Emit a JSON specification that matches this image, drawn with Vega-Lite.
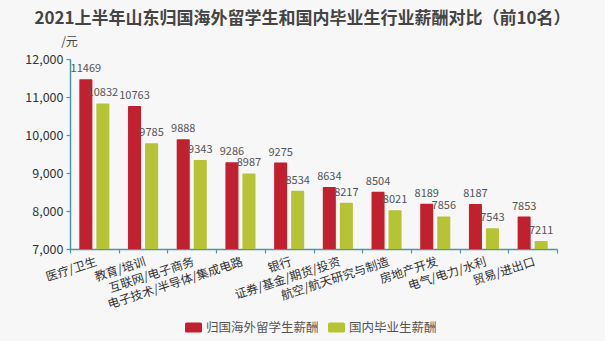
{
  "$schema": "https://vega.github.io/schema/vega-lite/v6.json",
  "width": 487,
  "height": 190,
  "autosize": {"type": "none"},
  "padding": {"left": 70, "top": 59, "right": 48, "bottom": 92},
  "background": "#f7f7f7",
  "title": {
    "text": "2021上半年山东归国海外留学生和国内毕业生行业薪酬对比（前10名）",
    "font": "Noto Sans CJK SC",
    "fontSize": 17,
    "fontWeight": "bold",
    "color": "#444444",
    "anchor": "middle",
    "dx": -11,
    "offset": 7
  },
  "config": {
    "view": {"stroke": null},
    "font": "Noto Sans CJK SC"
  },
  "data": {
    "values": [
      {"industry": "医疗/卫生", "series": "归国海外留学生薪酬", "value": 11469},
      {"industry": "医疗/卫生", "series": "国内毕业生薪酬", "value": 10832},
      {"industry": "教育/培训", "series": "归国海外留学生薪酬", "value": 10763},
      {"industry": "教育/培训", "series": "国内毕业生薪酬", "value": 9785},
      {"industry": "互联网/电子商务", "series": "归国海外留学生薪酬", "value": 9888},
      {"industry": "互联网/电子商务", "series": "国内毕业生薪酬", "value": 9343},
      {"industry": "电子技术/半导体/集成电路", "series": "归国海外留学生薪酬", "value": 9286},
      {"industry": "电子技术/半导体/集成电路", "series": "国内毕业生薪酬", "value": 8987},
      {"industry": "银行", "series": "归国海外留学生薪酬", "value": 9275},
      {"industry": "银行", "series": "国内毕业生薪酬", "value": 8534},
      {"industry": "证券/基金/期货/投资", "series": "归国海外留学生薪酬", "value": 8634},
      {"industry": "证券/基金/期货/投资", "series": "国内毕业生薪酬", "value": 8217},
      {"industry": "航空/航天研究与制造", "series": "归国海外留学生薪酬", "value": 8504},
      {"industry": "航空/航天研究与制造", "series": "国内毕业生薪酬", "value": 8021},
      {"industry": "房地产开发", "series": "归国海外留学生薪酬", "value": 8189},
      {"industry": "房地产开发", "series": "国内毕业生薪酬", "value": 7856},
      {"industry": "电气/电力/水利", "series": "归国海外留学生薪酬", "value": 8187},
      {"industry": "电气/电力/水利", "series": "国内毕业生薪酬", "value": 7543},
      {"industry": "贸易/进出口", "series": "归国海外留学生薪酬", "value": 7853},
      {"industry": "贸易/进出口", "series": "国内毕业生薪酬", "value": 7211}
    ]
  },
  "encoding": {
    "x": {
      "field": "industry",
      "type": "nominal",
      "sort": null,
      "scale": {"paddingInner": 0, "paddingOuter": 0},
      "axis": {
        "title": null,
        "labelAngle": -18,
        "labelAlign": "right",
        "labelBaseline": "top",
        "labelFontSize": 12,
        "labelColor": "#333333",
        "labelPadding": 3,
        "tickBand": "extent",
        "tickSize": 4,
        "tickColor": "#4a98a2",
        "domainColor": "#4a98a2",
        "domainWidth": 1.5,
        "tickWidth": 1.2
      }
    },
    "xOffset": {
      "field": "series",
      "type": "nominal",
      "sort": ["归国海外留学生薪酬", "国内毕业生薪酬"],
      "scale": {"paddingInner": 0.235, "paddingOuter": 0.547}
    },
    "y": {
      "field": "value",
      "type": "quantitative",
      "scale": {"domain": [7000, 12000], "nice": false, "zero": false},
      "axis": {
        "values": [7000, 8000, 9000, 10000, 11000, 12000],
        "format": ",d",
        "grid": false,
        "tickSize": 4,
        "tickColor": "#4a98a2",
        "domainColor": "#4a98a2",
        "domainWidth": 1.5,
        "tickWidth": 1.2,
        "labelFontSize": 12.5,
        "labelColor": "#333333",
        "labelPadding": 3,
        "title": "/元",
        "titleAngle": 0,
        "titleAlign": "center",
        "titleBaseline": "alphabetic",
        "titleX": -1,
        "titleY": -14,
        "titleFontSize": 12,
        "titleFontWeight": "normal",
        "titleColor": "#444444"
      }
    }
  },
  "layer": [
    {
      "mark": {"type": "bar", "cornerRadiusTopLeft": 1, "cornerRadiusTopRight": 1},
      "encoding": {
        "y2": {"datum": 7000},
        "color": {
          "field": "series",
          "type": "nominal",
          "scale": {"domain": ["归国海外留学生薪酬", "国内毕业生薪酬"], "range": ["#c1202f", "#b6c334"]},
          "legend": {
            "title": null,
            "orient": "none",
            "direction": "horizontal",
            "legendX": 115,
            "legendY": 260,
            "padding": 0,
            "symbolType": "M-0.8,-0.6H0.8A0.2,0.2 0 0 1 1,-0.4V0.4A0.2,0.2 0 0 1 0.8,0.6H-0.8A0.2,0.2 0 0 1 -1,0.4V-0.4A0.2,0.2 0 0 1 -0.8,-0.6Z",
            "symbolSize": 289,
            "symbolStrokeWidth": 0,
            "symbolOpacity": 1,
            "labelFontSize": 12.5,
            "labelColor": "#555555",
            "labelOffset": 4,
            "columnPadding": 9
          }
        }
      }
    },
    {
      "mark": {"type": "text", "dy": -7, "baseline": "alphabetic", "fontSize": 11, "color": "#555555"},
      "encoding": {
        "text": {"field": "value", "type": "quantitative", "format": "d"}
      }
    }
  ]
}
